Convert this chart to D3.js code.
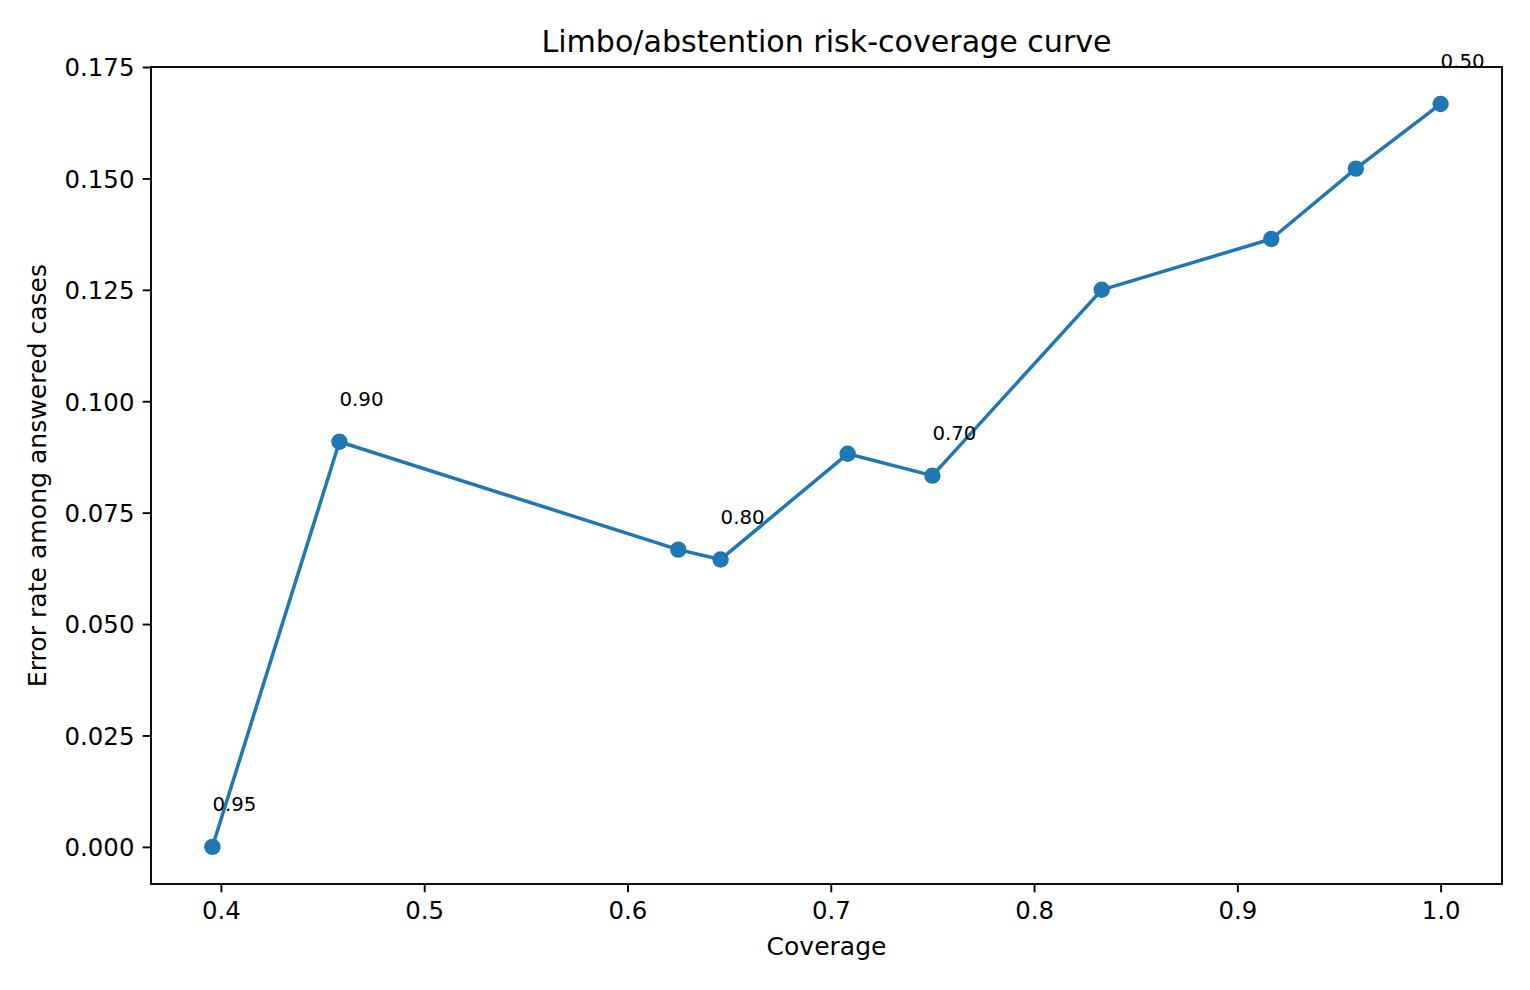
<!DOCTYPE html>
<html>
<head>
<meta charset="utf-8">
<script src="https://cdn.jsdelivr.net/npm/d3@7"></script>
<style>
  body { margin: 0; background: #fff; }
  text { font-family: "DejaVu Sans", sans-serif; }
</style>
</head>
<body>
<script>
// coverage vs error rate, one point per threshold
var coverage = [0.3958, 0.4583, 0.6250, 0.6458, 0.7083, 0.7500, 0.8333, 0.9167, 0.9583, 1.0000];
var errorRate = [0.0000, 0.0909, 0.0667, 0.0645, 0.0882, 0.0833, 0.1250, 0.1364, 0.1522, 0.1667];
// threshold labels ('' = not labelled)
var thresholdLabels = ['0.95', '0.90', '', '0.80', '', '0.70', '', '', '', '0.50'];

var xTicks = [0.4, 0.5, 0.6, 0.7, 0.8, 0.9, 1.0];
var yTicks = [0, 0.025, 0.05, 0.075, 0.1, 0.125, 0.15, 0.175];

var W = 1530, H = 990;
var mLeft = 151, mRight = 1502, mTop = 67, mBottom = 884;
var blue = '#1f77b4';

var svg = d3.select('body').append('svg')
    .attr('width', W)
    .attr('height', H);

var x = d3.scaleLinear().domain([0.3656, 1.0302]).range([mLeft, mRight]);
var y = d3.scaleLinear().domain([-0.00833, 0.175]).range([mBottom, mTop]);

// line
var line = d3.line()
    .x(function(d, i) { return x(coverage[i]); })
    .y(function(d, i) { return y(errorRate[i]); });

svg.append('path')
    .datum(coverage)
    .attr('d', line)
    .attr('fill', 'none')
    .attr('stroke', blue)
    .attr('stroke-width', 3.5)
    .attr('stroke-linejoin', 'round')
    .attr('stroke-linecap', 'square');

svg.selectAll('circle.pt')
    .data(coverage)
    .enter().append('circle')
    .attr('class', 'pt')
    .attr('cx', function(d) { return x(d); })
    .attr('cy', function(d, i) { return y(errorRate[i]); })
    .attr('r', 8.2)
    .attr('fill', blue);

// threshold annotations (offset +0.008 in data units)
svg.selectAll('text.ann')
    .data(coverage)
    .enter().append('text')
    .attr('class', 'ann')
    .attr('x', function(d) { return x(d); })
    .attr('y', function(d, i) { return y(errorRate[i] + 0.008); })
    .attr('font-size', 19.8)
    .attr('fill', '#000')
    .text(function(d, i) { return thresholdLabels[i]; });

// axes
var xAxis = d3.axisBottom(x).tickValues(xTicks).tickSize(8.3).tickPadding(8.3)
    .tickFormat(d3.format('.1f'));
var yAxis = d3.axisLeft(y).tickValues(yTicks).tickSize(8.3).tickPadding(8.3)
    .tickFormat(d3.format('.3f'));

var gx = svg.append('g').attr('transform', 'translate(0,' + mBottom + ')').call(xAxis);
var gy = svg.append('g').attr('transform', 'translate(' + mLeft + ',0)').call(yAxis);

[gx, gy].forEach(function(g) {
  g.select('.domain').remove();
  g.selectAll('line').attr('stroke', '#000').attr('stroke-width', 1.9);
  g.selectAll('text').attr('font-size', 24.4).attr('fill', '#000')
    .attr('font-family', '"DejaVu Sans", sans-serif');
});
gx.selectAll('text').attr('dy', '0.76em');
gy.selectAll('text').attr('dy', '0.36em');

// frame
svg.append('rect')
    .attr('x', mLeft)
    .attr('y', mTop)
    .attr('width', mRight - mLeft)
    .attr('height', mBottom - mTop)
    .attr('fill', 'none')
    .attr('stroke', '#000')
    .attr('stroke-width', 1.9);

// titles
svg.append('text')
    .attr('x', (mLeft + mRight) / 2)
    .attr('y', 52)
    .attr('text-anchor', 'middle')
    .attr('font-size', 30.1)
    .text('Limbo/abstention risk-coverage curve');

svg.append('text')
    .attr('x', (mLeft + mRight) / 2)
    .attr('y', 955)
    .attr('text-anchor', 'middle')
    .attr('font-size', 25)
    .text('Coverage');

svg.append('text')
    .attr('transform', 'translate(46,' + ((mTop + mBottom) / 2) + ') rotate(-90)')
    .attr('text-anchor', 'middle')
    .attr('font-size', 25.1)
    .text('Error rate among answered cases');
</script>
</body>
</html>
